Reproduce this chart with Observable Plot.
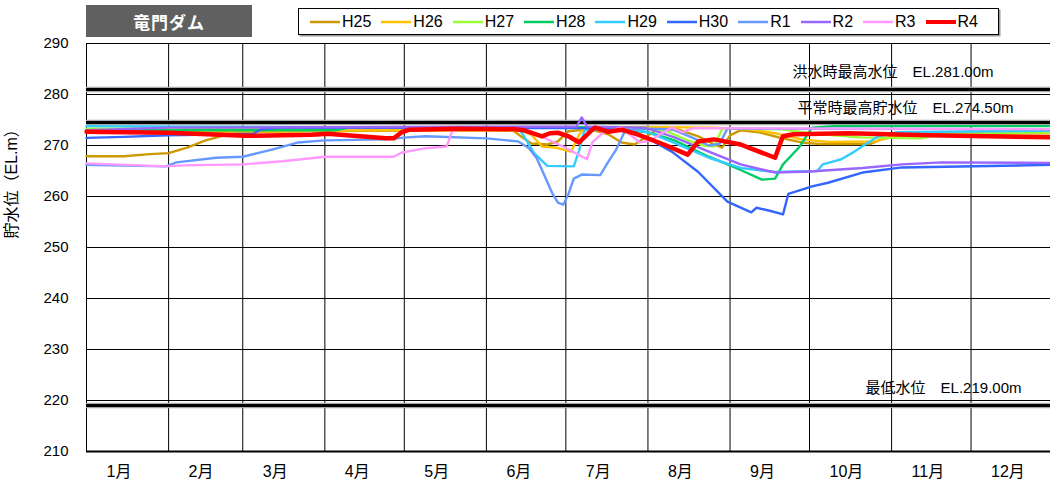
<!DOCTYPE html>
<html lang="ja">
<head>
<meta charset="utf-8">
<script src="https://cdn.jsdelivr.net/npm/d3@7"></script>
<script src="https://cdn.jsdelivr.net/npm/@observablehq/plot@0.6"></script>
<style>
  html, body { margin: 0; padding: 0; background: #fff; }
  #wrap { position: relative; width: 1050px; height: 484px; font-family: "Liberation Sans", "Noto Sans CJK JP", sans-serif; }
  #title {
    position: absolute; left: 86px; top: 5px; width: 166px; height: 32px;
    background: #606060; color: #fff; font: bold 17px "Noto Sans CJK JP", sans-serif;
    display: flex; align-items: center; justify-content: center; letter-spacing: 1px;
  }
  #legend {
    position: absolute; left: 298px; top: 8px; width: 701px; height: 27px;
    border: 1px solid #000; box-shadow: 1.5px 1.5px 0 #9a9a9a; background: #fff;
    display: flex; align-items: center; padding-left: 11px; box-sizing: border-box;
    font: 16px "Liberation Sans", sans-serif; color: #000;
  }
  #legend .item { display: flex; align-items: center; margin-right: 10px; }
  #legend svg { display: block; margin-right: 2px; }
  #chart { position: absolute; left: 0; top: 0; }
</style>
</head>
<body>
<div id="wrap">
  <div id="chart"></div>
  <div id="title"></div>
  <div id="legend"></div>
</div>
<script>
// Reservoir water level (EL.m) of 竜門ダム by year, sampled as [month-day, level]
const chartTitle = "竜門ダム";
const yTitle = "貯水位（EL.m）";
const monthLabels = ["1月","2月","3月","4月","5月","6月","7月","8月","9月","10月","11月","12月"];
const yTicks = [210, 220, 230, 240, 250, 260, 270, 280, 290];

const seriesNames = ["H25","H26","H27","H28","H29","H30","R1","R2","R3","R4"];
const seriesColors = ["#CC9900","#FFC000","#99FF33","#00CC66","#33CCFF","#3366FF","#6699FF","#9966FF","#FF99FF","#FF0000"];

const H25 = [["01-01",267.9],["01-15",267.9],["01-25",268.3],["02-01",268.5],["02-08",269.6],["02-15",271.0],["02-22",272.0],["03-01",272.6],["03-20",272.8],["04-20",272.9],["05-20",273.0],["06-11",273.0],["06-14",271.8],["06-18",270.4],["06-24",270.2],["06-28",270.8],["07-02",272.8],["07-10",273.2],["07-17",272.2],["07-22",270.6],["07-27",270.2],["07-31",271.6],["08-04",273.0],["08-12",273.2],["08-20",271.8],["08-26",270.2],["08-29",269.6],["09-01",272.0],["09-05",273.0],["09-12",272.6],["09-20",271.5],["09-28",270.6],["10-05",270.3],["10-24",270.3],["10-28",271.2],["11-05",272.0],["11-20",272.3],["12-31",272.4]];
const H26 = [["01-01",272.9],["02-15",272.7],["03-20",272.8],["04-20",273.0],["06-14",273.0],["06-18",272.1],["06-22",269.8],["06-27",269.6],["07-03",268.8],["07-06",272.1],["07-08",273.5],["08-01",273.6],["08-25",273.5],["09-08",273.2],["09-18",272.4],["09-28",271.2],["10-08",270.7],["10-26",270.8],["10-31",271.6],["11-10",272.2],["12-31",272.5]];
const H27 = [["01-01",273.3],["03-01",273.4],["06-01",273.5],["07-31",273.5],["08-08",272.8],["08-16",271.0],["08-22",270.0],["08-26",269.8],["08-29",273.3],["09-20",273.2],["10-01",272.4],["10-20",271.6],["11-12",271.4],["11-20",272.2],["12-31",272.6]];
const H28 = [["01-01",273.0],["04-05",273.0],["04-10",273.5],["07-15",273.6],["07-25",273.0],["08-01",272.6],["08-11",271.0],["08-24",267.8],["09-05",265.2],["09-13",263.3],["09-18",263.5],["09-21",266.3],["09-27",269.6],["09-29",271.2],["10-02",273.5],["10-10",273.8],["12-31",273.8]];
const H29 = [["01-01",273.8],["06-13",273.4],["06-15",272.0],["06-19",268.5],["06-24",266.0],["07-04",265.9],["07-06",269.0],["07-08",273.0],["07-25",273.2],["08-01",272.6],["08-11",270.5],["08-24",267.6],["09-05",265.6],["09-18",264.8],["10-04",265.0],["10-06",266.3],["10-13",267.3],["10-18",268.8],["10-22",270.2],["10-27",271.8],["11-03",272.6],["12-31",272.9]];
const H30 = [["01-01",271.5],["01-15",271.7],["02-01",272.0],["03-05",272.3],["03-08",273.2],["03-15",273.5],["07-15",273.4],["07-25",272.6],["08-01",271.4],["08-10",268.8],["08-20",264.8],["08-31",259.0],["09-09",256.9],["09-11",257.8],["09-16",257.2],["09-21",256.5],["09-23",260.5],["10-02",262.0],["10-08",262.7],["10-21",264.7],["11-05",265.7],["12-31",266.2]];
const R1 = [["01-01",266.2],["01-31",265.9],["02-04",266.7],["02-19",267.6],["03-01",267.8],["03-12",269.2],["03-22",270.6],["04-01",271.0],["04-24",271.2],["05-02",271.6],["05-09",271.8],["06-01",271.4],["06-13",270.8],["06-17",269.5],["06-20",267.5],["06-23",264.0],["06-26",260.5],["06-28",258.8],["06-30",258.4],["07-02",260.5],["07-04",263.5],["07-07",264.3],["07-14",264.2],["07-17",266.8],["07-20",269.2],["07-23",272.5],["07-27",273.3],["08-10",273.2],["08-18",271.5],["08-24",270.0],["08-28",270.3],["08-31",273.3],["12-31",273.2]];
const R2 = [["01-01",273.0],["02-01",273.5],["07-05",273.7],["07-07",275.5],["07-09",273.7],["07-31",273.5],["08-11",271.6],["08-24",268.8],["09-05",266.3],["09-18",264.7],["10-01",264.9],["10-21",265.6],["11-05",266.3],["11-20",266.7],["12-31",266.6]];
const R3 = [["01-01",266.5],["01-31",265.9],["02-07",266.1],["03-01",266.3],["03-16",266.9],["04-01",267.8],["04-27",267.8],["04-30",268.6],["05-08",269.4],["05-17",269.8],["05-19",272.7],["05-22",273.4],["06-14",273.2],["06-18",272.6],["06-30",269.8],["07-09",267.3],["07-11",270.6],["07-15",272.5],["07-22",273.5],["07-26",271.8],["07-29",270.6],["08-02",271.0],["08-06",272.3],["08-10",273.5],["08-14",272.6],["08-18",273.4],["12-31",273.2]];
const R4 = [["01-01",272.7],["02-01",272.5],["03-02",271.9],["03-27",272.1],["04-02",272.3],["04-24",271.4],["04-27",271.4],["04-30",272.6],["05-03",273.1],["05-20",273.3],["06-12",273.2],["06-15",273.0],["06-22",271.8],["06-25",272.4],["06-28",272.5],["07-02",271.8],["07-06",270.6],["07-11",273.1],["07-12",273.5],["07-17",272.7],["07-22",273.1],["07-28",272.2],["08-07",270.2],["08-16",268.2],["08-20",270.8],["08-26",271.2],["09-05",270.2],["09-08",269.6],["09-18",267.6],["09-20",270.5],["09-21",271.8],["09-25",272.2],["10-16",272.4],["11-15",272.0],["12-31",271.6]];
const seriesData = [H25, H26, H27, H28, H29, H30, R1, R2, R3, R4];

// Reference elevations
const refValues = [281, 274.5, 219];
const refLabels = ["洪水時最高水位　EL.281.00m", "平常時最高貯水位　EL.274.50m", "最低水位　EL.219.00m"];

// ---- build tidy rows ----
const yearBase = "2022";
const toDate = (md) => new Date(`${yearBase}-${md}T00:00:00Z`);
const rows = seriesData.flatMap((pts, i) =>
  pts.map(([md, v]) => ({ series: seriesNames[i], date: toDate(md), level: v })));
const monthStarts = monthLabels.map((_, i) => new Date(Date.UTC(2022, i, 1)));
const refs = refValues.map((v, i) => ({ value: v, label: refLabels[i] }));

// label placement relative to the right edge of the frame
const refDx = [-57, -37, -29];
const refDy = [-17, -14, -17];

const font = '"Liberation Sans", "Noto Sans CJK JP", sans-serif';

const chart = Plot.plot({
  width: 1050,
  height: 484,
  marginLeft: 86,
  marginRight: 0,
  marginTop: 43,
  marginBottom: 33,
  style: { fontFamily: font, fontSize: "15px", color: "#000", background: "transparent" },
  x: { type: "utc", domain: [toDate("01-01"), toDate("12-31")] },
  y: { domain: [210, 290] },
  color: { domain: seriesNames, range: seriesColors },
  marks: [
    Plot.gridY(yTicks, { stroke: "#000", strokeOpacity: 1, strokeWidth: 1 }),
    Plot.gridX(monthStarts, { stroke: "#000", strokeOpacity: 1, strokeWidth: 1 }),
    Plot.ruleY([210], { stroke: "#000", strokeWidth: 2 }),
    Plot.ruleY(refValues, { stroke: "#a8a8a8", strokeWidth: 5.5 }),
    Plot.ruleY(refValues, { stroke: "#000", strokeWidth: 3 }),
    ...refs.map((r, i) => Plot.text([r], {
      y: "value", text: "label", frameAnchor: "right", textAnchor: "end",
      dx: refDx[i], dy: refDy[i], fontSize: 15, fill: "#000", ariaLabel: "ref-label"
    })),
    ...seriesNames.map(name => Plot.line(rows.filter(d => d.series === name), {
      x: "date", y: "level", stroke: "series",
      strokeWidth: name === "R4" ? 4.5 : 2.4, strokeLinejoin: "round", strokeLinecap: "round"
    })),
    Plot.axisY(yTicks, { tickSize: 0, tickPadding: 18, fontSize: 15, label: null }),
    Plot.axisX(monthStarts, {
      tickSize: 0, tickPadding: 14, textAnchor: "start", dx: 20, fontSize: 16,
      tickFormat: d => monthLabels[d.getUTCMonth()], label: null
    }),
    Plot.text([yTitle], { frameAnchor: "left", rotate: -90, dx: -75, dy: -9, fontSize: 16, fill: "#000" })
  ]
});

document.getElementById("chart").appendChild(chart);

// white boxes behind the reference-level labels
d3.select(chart).selectAll('g[aria-label="ref-label"] text').each(function () {
  const bb = this.getBBox();
  const cy = bb.y + bb.height / 2;
  d3.select(this.parentNode).insert("rect", () => this)
    .attr("transform", this.getAttribute("transform"))
    .attr("x", bb.x - 4).attr("width", bb.width + 8)
    .attr("y", cy - 12.5).attr("height", 25)
    .attr("fill", "#fff");
});

// title block
document.getElementById("title").textContent = chartTitle;

// legend
const legend = d3.select("#legend");
seriesNames.forEach((name, i) => {
  const item = legend.append("div").attr("class", "item");
  const sw = item.append("svg").attr("width", 30).attr("height", 8);
  sw.append("line").attr("x1", 0).attr("x2", 30).attr("y1", 4).attr("y2", 4)
    .attr("stroke", seriesColors[i]).attr("stroke-width", name === "R4" ? 4 : 2.5);
  item.append("span").text(name);
});
</script>
</body>
</html>
